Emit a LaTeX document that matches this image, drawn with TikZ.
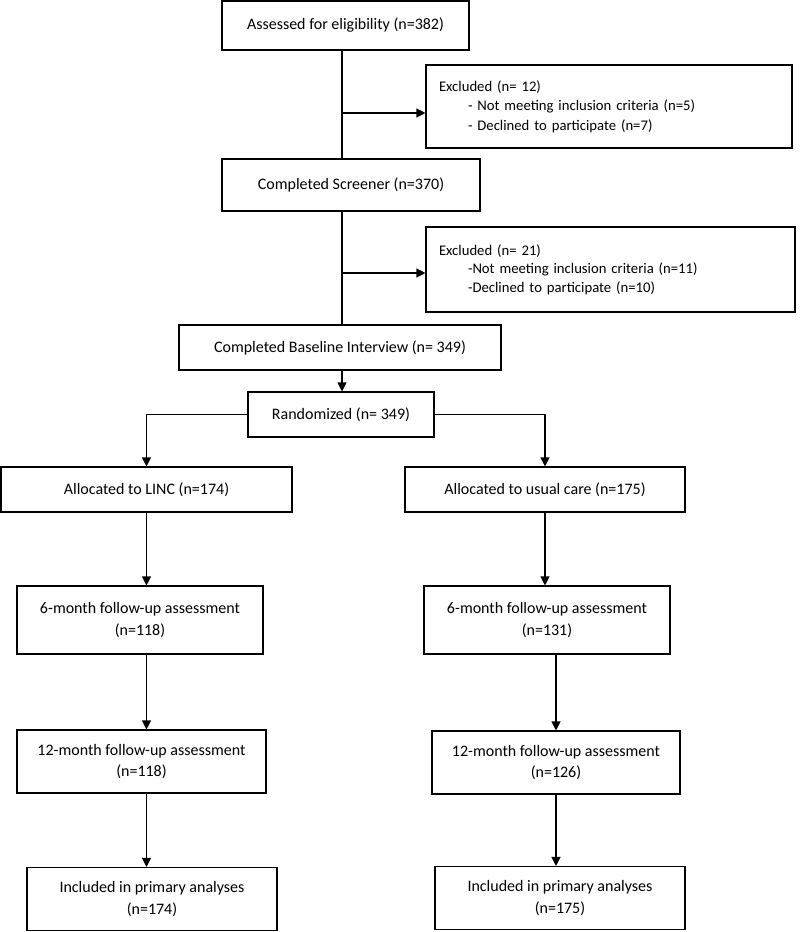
\documentclass[tikz,border=0pt]{standalone}
\usepackage{fontspec}
\setmainfont{Carlito}
\usetikzlibrary{arrows.meta}
\begin{document}
\begin{tikzpicture}[x=1pt,y=-1pt,
  box/.style={draw, line width=1.1pt, inner sep=0pt, align=center, font=\fontsize{16}{21.5}\selectfont},
  exbox/.style={draw, line width=1.1pt, inner ysep=0pt, inner xsep=13pt, align=left, text width=340pt},
  arr/.style={line width=1.1pt, -{Triangle[length=9pt,width=9pt]}},
  ln/.style={line width=1.1pt}]
\useasboundingbox (0,0) rectangle (800,932);
\fill[white] (0,0) rectangle (800,932);
% top chain
\node[box, minimum width=247pt, minimum height=49pt] (assess) at (345.5,25.5) {Assessed for eligibility (n=382)};
\node[exbox, minimum width=366pt, minimum height=83pt, font=\fontsize{14.7}{19.5}\selectfont] (excl1) at (609,106.5)
  {Excluded (n= 12)\\\hspace*{29pt}- Not meeting inclusion criteria (n=5)\\\hspace*{29pt}- Declined to participate (n=7)};
\node[box, minimum width=258pt, minimum height=52pt] (screen) at (351,185) {Completed Screener (n=370)};
\node[exbox, minimum width=369pt, minimum height=85pt, text width=343pt, font=\fontsize{14.7}{18.5}\selectfont] (excl2) at (610.5,269.5)
  {Excluded (n= 21)\\\hspace*{29pt}-Not meeting inclusion criteria (n=11)\\\hspace*{29pt}-Declined to participate (n=10)};
\node[box, minimum width=322pt, minimum height=45pt] (base) at (340,347.5) {Completed Baseline Interview (n= 349)};
\node[box, minimum width=186pt, minimum height=45pt] (rand) at (341,414.5) {Randomized (n= 349)};
% arms
\node[box, minimum width=291pt, minimum height=45pt] (linc) at (146.5,489.5) {Allocated to LINC (n=174)};
\node[box, minimum width=280pt, minimum height=45pt] (usual) at (545,489.5) {Allocated to usual care (n=175)};
\node[box, minimum width=246pt, minimum height=68pt] (sixL) at (140,620) {6-month follow-up assessment\\(n=118)};
\node[box, minimum width=246pt, minimum height=68pt] (sixR) at (547,620) {6-month follow-up assessment\\(n=131)};
\node[box, minimum width=249pt, minimum height=63pt] (twL) at (141.5,761.5) {12-month follow-up assessment\\(n=118)};
\node[box, minimum width=248pt, minimum height=63pt] (twR) at (556,762.5) {12-month follow-up assessment\\(n=126)};
\node[box, minimum width=250pt, minimum height=63pt] (incL) at (152,899) {Included in primary analyses\\(n=174)};
\node[box, minimum width=250pt, minimum height=63pt] (incR) at (560,898) {Included in primary analyses\\(n=175)};
% connectors
\coordinate (sp) at (342,0);
\draw[ln] (assess.south -| sp) -- (screen.north -| sp);
\coordinate (j1) at (342,113);
\draw[arr] (j1) -- (j1 -| excl1.west);
\draw[ln] (screen.south -| sp) -- (base.north -| sp);
\coordinate (j2) at (342,273);
\draw[arr] (j2) -- (j2 -| excl2.west);
\draw[arr] (base.south -| sp) -- (rand.north -| sp);
\draw[arr] (rand.west) -| (linc.north);
\draw[arr] (rand.east) -| (usual.north);
\draw[arr] (linc.south) -- (linc.south |- sixL.north);
\draw[arr] (usual.south) -- (usual.south |- sixR.north);
\draw[arr] (sixL.south -| linc.south) -- (twL.north -| linc.south);
\draw[arr] (sixR.south -| twR.north) -- (twR.north);
\draw[arr] (twL.south -| linc.south) -- (incL.north -| linc.south);
\draw[arr] (twR.south) -- (twR.south |- incR.north);
\end{tikzpicture}
\end{document}
